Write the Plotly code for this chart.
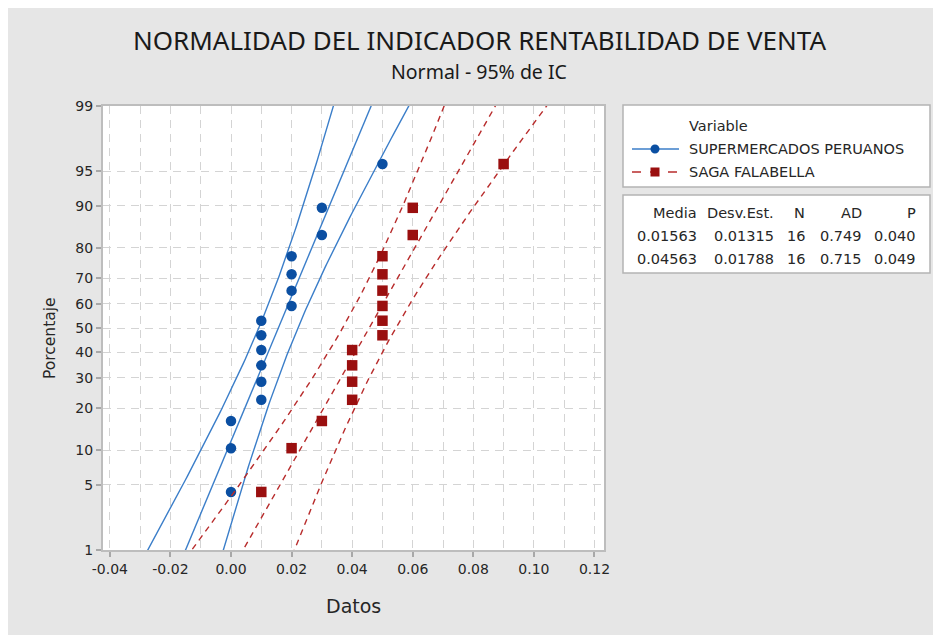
import numpy as np
import plotly.graph_objects as go
from statistics import NormalDist

# ---------------- data ----------------
series_names = ["SUPERMERCADOS PERUANOS", "SAGA FALABELLA"]
sp_values = [0.00, 0.00, 0.00, 0.01, 0.01, 0.01, 0.01, 0.01, 0.01,
             0.02, 0.02, 0.02, 0.02, 0.03, 0.03, 0.05]
sf_values = [0.01, 0.02, 0.03, 0.04, 0.04, 0.04, 0.04, 0.05, 0.05,
             0.05, 0.05, 0.05, 0.05, 0.06, 0.06, 0.09]
stats_header = ["Media", "Desv.Est.", "N", "AD", "P"]
stats_rows = [["0.01563", "0.01315", "16", "0.749", "0.040"],
              ["0.04563", "0.01788", "16", "0.715", "0.049"]]
y_tick_pct = [1, 5, 10, 20, 30, 40, 50, 60, 70, 80, 90, 95, 99]
x_tick_vals = [-0.04, -0.02, 0.00, 0.02, 0.04, 0.06, 0.08, 0.10, 0.12]

nd = NormalDist()

# ---------------- geometry (reference screen pixels) ----------------
OX, OY = 8, 8            # page body margin
W, H = 941 - OX, 635 - OY
PL, PR, PT, PB = 103, 604, 106, 550


def px2x(px):
    return (px - PL) / (PR - PL)


def py2y(py):
    return (PB - py) / (PB - PT)


blue_m, blue_l = "#0B4FA2", "#3B7EC9"
red_m, red_l = "#9A0F0F", "#B82C2C"

fig = go.Figure()


def add_series(vals, mcol, lcol, dash, symbol):
    v = np.sort(np.array(vals, dtype=float))
    n = len(v)
    ranks = np.arange(1, n + 1)
    pp = (ranks - 0.3) / (n + 0.4)
    zq = np.array([nd.inv_cdf(p) for p in pp])
    m = v.mean()
    s = v.std(ddof=1)
    zg = np.linspace(-2.6, 2.6, 120)
    xf = m + s * zg
    se = s * np.sqrt(1.0 / n + zg ** 2 / (2.0 * n))
    lo = xf - 1.96 * se
    hi = xf + 1.96 * se
    for xx in (lo, xf, hi):
        fig.add_trace(go.Scatter(x=xx, y=zg, mode="lines",
                                 line=dict(color=lcol, width=1.4, dash=dash),
                                 hoverinfo="skip", showlegend=False))
    fig.add_trace(go.Scatter(x=v, y=zq, mode="markers",
                             marker=dict(color=mcol, size=10.5, symbol=symbol),
                             showlegend=False))


add_series(sp_values, blue_m, blue_l, "solid", "circle")
add_series(sf_values, red_m, red_l, "6px,5px", "square")

zt = [nd.inv_cdf(p / 100.0) for p in y_tick_pct]
x0 = (PL - 231) / 3029.0
x1 = (PR - 231) / 3029.0

font_main = "DejaVu Sans, Verdana, sans-serif"
txt = "#262626"
gridc = "#D4D4D4"
framec = "#BDBDBD"

fig.update_layout(
    width=W, height=H,
    margin=dict(l=PL - OX, r=(W + OX) - PR, t=PT - OY, b=(H + OY) - PB, pad=0),
    paper_bgcolor="#E6E6E6", plot_bgcolor="white",
    font=dict(family=font_main, size=14, color=txt),
    showlegend=False,
    xaxis=dict(range=[x0, x1], tickvals=x_tick_vals,
               ticktext=["%.2f" % t for t in x_tick_vals],
               showgrid=True, gridcolor=gridc, griddash="8px,6px", gridwidth=1,
               minor=dict(dtick=0.01, tick0=0, showgrid=True, gridcolor=gridc,
                          griddash="8px,6px", gridwidth=1, ticks=""),
               ticks="outside", ticklen=5, tickwidth=1.5, tickcolor="#A8A8A8",
               showline=True, linecolor=framec, linewidth=2, mirror=True,
               zeroline=False, tickfont=dict(size=14, color=txt)),
    yaxis=dict(range=[zt[0] - 0.003, zt[-1] + 0.003], tickvals=zt,
               ticktext=[str(p) for p in y_tick_pct],
               showgrid=True, gridcolor=gridc, griddash="8px,6px", gridwidth=1,
               ticks="outside", ticklen=5, tickwidth=1.5, tickcolor="#A8A8A8",
               showline=True, linecolor=framec, linewidth=2, mirror=True,
               zeroline=False, tickfont=dict(size=14, color=txt)),
)

ann = []
title_font = "Noto Sans, Open Sans, sans-serif"
ann.append(dict(x=px2x(479), y=py2y(40), xref="paper", yref="paper",
                text="NORMALIDAD DEL INDICADOR RENTABILIDAD DE VENTA",
                showarrow=False, xanchor="center", yanchor="middle",
                font=dict(family=title_font, size=26, color="#1A1A1A")))
ann.append(dict(x=px2x(479), y=py2y(72), xref="paper", yref="paper",
                text="Normal - 95% de IC",
                showarrow=False, xanchor="center", yanchor="middle",
                font=dict(family=title_font, size=19.5, color="#1A1A1A")))
ann.append(dict(x=px2x(353), y=py2y(606), xref="paper", yref="paper",
                text="Datos", showarrow=False, xanchor="center", yanchor="middle",
                font=dict(size=19, color=txt)))
ann.append(dict(x=px2x(50), y=py2y(338), xref="paper", yref="paper",
                text="Porcentaje", showarrow=False, textangle=-90,
                xanchor="center", yanchor="middle", font=dict(size=15.5, color=txt)))

shapes = []
shapes.append(dict(type="rect", xref="paper", yref="paper",
                   x0=px2x(623), x1=px2x(930), y0=py2y(105), y1=py2y(187),
                   fillcolor="white", line=dict(color="#B4B4B4", width=1.5)))
shapes.append(dict(type="rect", xref="paper", yref="paper",
                   x0=px2x(623), x1=px2x(930), y0=py2y(195), y1=py2y(273),
                   fillcolor="white", line=dict(color="#B4B4B4", width=1.5)))
leg_fs = 14.5
ann.append(dict(x=px2x(687), y=py2y(126), xref="paper", yref="paper",
                text="Variable", showarrow=False, xanchor="left", yanchor="middle",
                font=dict(size=leg_fs, color=txt)))
leg_y = [149, 172]
leg_cols = [(blue_m, blue_l, "solid"), (red_m, red_l, "dash")]
for i, name in enumerate(series_names):
    mc, lc, ds = leg_cols[i]
    yy = py2y(leg_y[i])
    shapes.append(dict(type="line", xref="paper", yref="paper",
                       x0=px2x(632), x1=px2x(679), y0=yy, y1=yy,
                       line=dict(color=lc, width=1.5, dash=ds)))
    r = 4.5
    shapes.append(dict(type="circle" if i == 0 else "rect", xref="paper", yref="paper",
                       x0=px2x(655 - r), x1=px2x(655 + r),
                       y0=py2y(leg_y[i] + r), y1=py2y(leg_y[i] - r),
                       fillcolor=mc, line=dict(color=mc, width=0)))
    ann.append(dict(x=px2x(687), y=yy, xref="paper", yref="paper",
                    text=name, showarrow=False, xanchor="left", yanchor="middle",
                    font=dict(size=leg_fs, color=txt)))

col_right = [699, 776, 807, 864, 918]
row_y = [213, 236, 259]
rows = [stats_header] + stats_rows
for r_i, row in enumerate(rows):
    for c_i, cell in enumerate(row):
        ann.append(dict(x=px2x(col_right[c_i]), y=py2y(row_y[r_i]),
                        xref="paper", yref="paper", text=cell, showarrow=False,
                        xanchor="right", yanchor="middle",
                        font=dict(size=leg_fs, color=txt)))

fig.update_layout(annotations=ann, shapes=shapes)
fig.write_html("out.html")
